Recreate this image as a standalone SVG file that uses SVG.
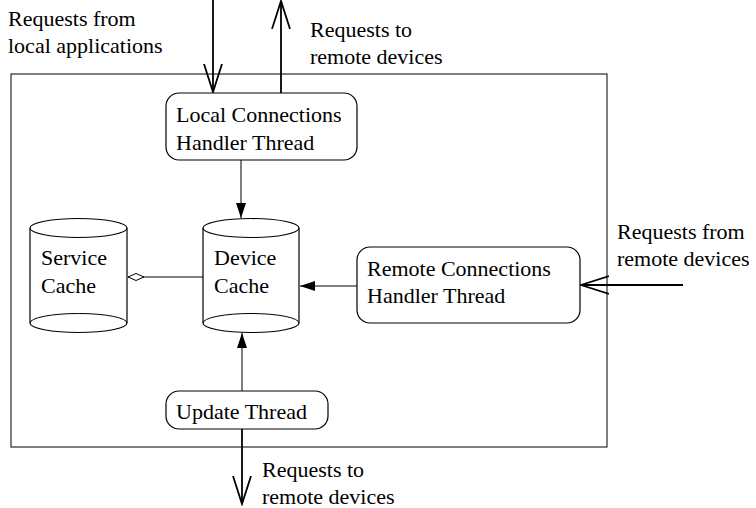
<svg xmlns="http://www.w3.org/2000/svg" width="756" height="508" viewBox="0 0 756 508">
<style>
.box{fill:#fff;stroke:#000;stroke-width:1.2}
.cyl{fill:#fff;stroke:#000;stroke-width:1.2}
.thin{fill:none;stroke:#000;stroke-width:1}
.ext{fill:none;stroke:#000;stroke-width:1.8}
</style>
<defs>
<marker id="fill" markerWidth="16" markerHeight="12" refX="15" refY="6" orient="auto" markerUnits="userSpaceOnUse">
<path d="M0,1 L15,6 L0,11 Z" fill="#000"/>
</marker>
<marker id="open" markerWidth="30" markerHeight="22" refX="28" refY="11" orient="auto" markerUnits="userSpaceOnUse">
<path d="M0,2 L28,11 L0,20" fill="none" stroke="#000" stroke-width="1.8"/>
</marker>
<marker id="diamond" markerWidth="18" markerHeight="10" refX="17" refY="5" orient="auto" markerUnits="userSpaceOnUse">
<path d="M1,5 L9,1.5 L17,5 L9,8.5 Z" fill="#fff" stroke="#000" stroke-width="1"/>
</marker>
</defs>
<rect id="frame" x="11" y="74" width="596" height="373" fill="none" stroke="#000" stroke-width="1"/>
<g id="connectors">
<line class="ext" x1="213" y1="0" x2="213" y2="92" marker-end="url(#open)"/>
<line class="ext" x1="281" y1="93" x2="281" y2="1" marker-end="url(#open)"/>
<line class="thin" x1="241" y1="160" x2="241" y2="218" marker-end="url(#fill)"/>
<line class="thin" x1="203" y1="277" x2="128" y2="277" marker-end="url(#diamond)"/>
<line class="thin" x1="357" y1="286" x2="300" y2="286" marker-end="url(#fill)"/>
<line class="ext" x1="683" y1="285" x2="581" y2="285" marker-end="url(#open)"/>
<line class="thin" x1="242" y1="391" x2="242" y2="333" marker-end="url(#fill)"/>
<line class="ext" x1="242" y1="429" x2="242" y2="504" marker-end="url(#open)"/>
</g>
<g font-family="Liberation Serif, DejaVu Serif, serif" font-size="22" fill="#000">
<g id="label-local-in"><text x="8" y="26">Requests from</text><text x="8" y="53">local applications</text></g>
<g id="label-remote-out-top"><text x="310" y="37">Requests to</text><text x="310" y="64">remote devices</text></g>
<g id="label-remote-in"><text x="617" y="239">Requests from</text><text x="617" y="266">remote devices</text></g>
<g id="label-remote-out-bottom"><text x="262" y="477">Requests to</text><text x="262" y="504">remote devices</text></g>
<g id="local-handler">
<rect class="box" x="166" y="93" width="191" height="67" rx="13"/>
<text x="176" y="122">Local Connections</text><text x="176" y="150">Handler Thread</text>
</g>
<g id="service-cache">
<path class="cyl" d="M30,228 L30,323 A48.5,9.5 0 0 0 127,323 L127,228"/>
<ellipse class="cyl" cx="78.5" cy="228" rx="48.5" ry="9.5"/>
<path class="thin" d="M30,323 A48.5,9.5 0 0 1 127,323"/>
<text x="41" y="265">Service</text><text x="41" y="293">Cache</text>
</g>
<g id="device-cache">
<path class="cyl" d="M203,228 L203,323 A48,9.5 0 0 0 299,323 L299,228"/>
<ellipse class="cyl" cx="251" cy="228" rx="48" ry="9.5"/>
<path class="thin" d="M203,323 A48,9.5 0 0 1 299,323"/>
<text x="214" y="265">Device</text><text x="214" y="293">Cache</text>
</g>
<g id="remote-handler">
<rect class="box" x="357" y="247" width="223" height="76" rx="13"/>
<text x="367" y="276">Remote Connections</text><text x="367" y="303">Handler Thread</text>
</g>
<g id="update-thread">
<rect class="box" x="166" y="391" width="162" height="38" rx="13"/>
<text x="176" y="419">Update Thread</text>
</g>
</g>
</svg>
